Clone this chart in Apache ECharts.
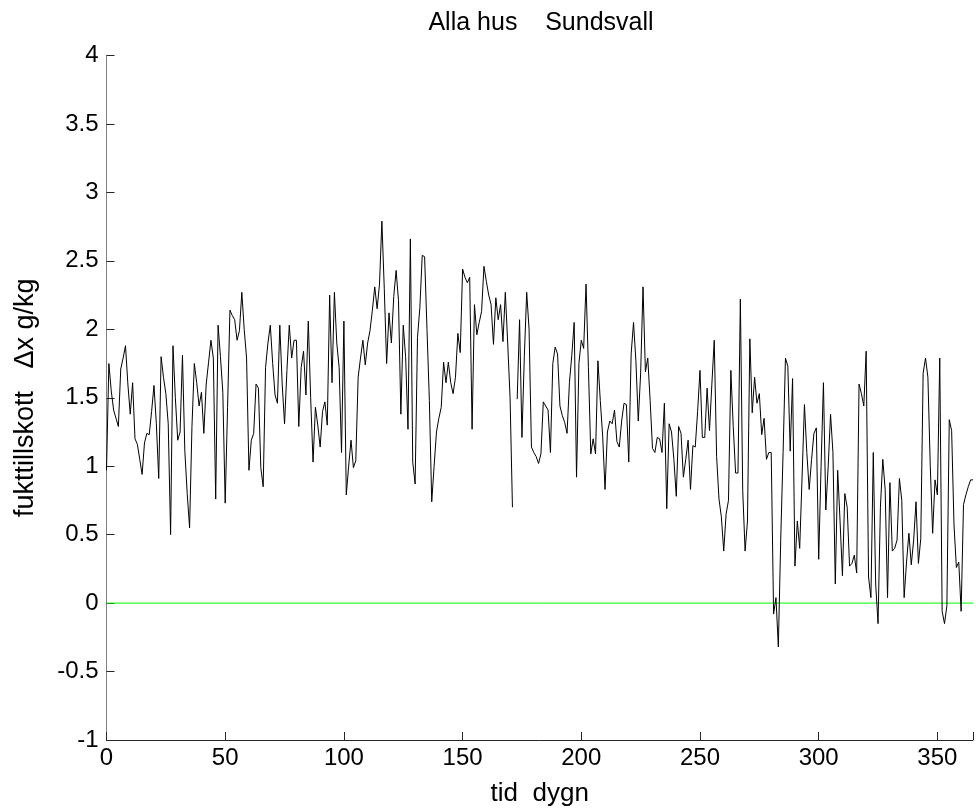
<!DOCTYPE html>
<html><head><meta charset="utf-8">
<script src="https://cdn.jsdelivr.net/npm/echarts@6/dist/echarts.min.js"></script>
<style>html,body{margin:0;padding:0;background:#fff}#c{width:976px;height:812px}</style>
</head><body><div id="c"></div>
<script>
const titleText = 'Alla hus    Sundsvall';
const xName = 'tid  dygn';
const yName = 'fukttillskott   \u0394x g/kg';
const xTicks = [0, 50, 100, 150, 200, 250, 300, 350];
const xRange = [0, 365];
const yTicks = [-1, -0.5, 0, 0.5, 1, 1.5, 2, 2.5, 3, 3.5, 4];
const zeroLevel = 0;
// daily values, day 0 .. 365 (null = missing day)
const values = [
0.97,1.75,1.55,1.41,1.35,1.29,1.71,1.79,1.88,1.60,
1.38,1.61,1.20,1.16,1.05,0.94,1.17,1.24,1.23,1.40,
1.59,1.31,0.91,1.80,1.65,1.53,1.31,0.50,1.88,1.50,
1.19,1.25,1.81,1.11,0.80,0.55,1.29,1.75,1.61,1.44,
1.54,1.24,1.60,1.76,1.92,1.79,0.76,2.03,1.80,1.54,
0.73,1.43,2.14,2.10,2.07,1.92,1.99,2.27,2.00,1.79,
0.97,1.19,1.24,1.60,1.57,0.99,0.85,1.72,1.90,2.03,
1.75,1.52,1.46,2.03,1.60,1.31,1.70,2.03,1.79,1.92,
1.92,1.29,1.72,1.84,1.52,2.06,1.50,1.03,1.43,1.30,
1.14,1.40,1.47,1.30,2.25,1.61,2.27,1.90,1.72,1.10,
2.06,0.79,1.00,1.19,0.99,1.04,1.65,1.79,1.92,1.74,
1.90,1.99,2.14,2.31,2.15,2.33,2.79,2.30,1.75,2.12,
1.90,2.24,2.43,2.21,1.38,2.03,1.80,1.27,2.66,1.03,
0.87,1.94,2.16,2.54,2.53,2.00,1.48,0.74,1.00,1.25,
1.35,1.43,1.76,1.61,1.76,1.61,1.53,1.65,1.97,1.83,
2.44,2.38,2.34,2.38,1.27,2.18,1.96,2.05,2.13,2.46,
2.35,2.25,2.18,1.89,2.23,2.07,2.18,1.91,2.27,1.90,
1.50,0.70,null,1.49,2.07,1.21,1.80,2.27,2.00,1.14,
1.10,1.07,1.02,1.09,1.47,1.44,1.41,1.10,1.75,1.87,
1.82,1.44,1.37,1.32,1.24,1.61,1.81,2.05,0.92,1.75,
1.92,1.86,2.33,1.72,1.09,1.20,1.09,1.77,1.48,1.22,
0.83,1.25,1.33,1.31,1.41,1.18,1.14,1.33,1.46,1.45,
1.03,1.82,2.05,1.77,1.33,1.68,2.31,1.69,1.79,1.48,
1.13,1.10,1.21,1.20,1.10,1.46,0.69,1.31,1.25,1.05,
0.78,1.29,1.24,0.92,1.05,1.19,0.83,1.15,1.14,1.40,
1.70,1.21,1.21,1.57,1.26,1.60,1.92,1.07,0.76,0.63,
0.38,0.65,0.75,1.70,1.29,0.95,0.95,2.22,0.82,0.38,
0.60,1.93,1.39,1.65,1.46,1.53,1.23,1.35,1.05,1.10,
1.10,-0.08,0.04,-0.32,0.46,1.10,1.79,1.73,1.11,1.64,
0.27,0.60,0.40,0.92,1.45,1.10,0.83,1.05,1.24,1.28,
0.32,1.00,1.61,0.68,1.00,1.38,1.10,0.14,0.97,0.60,
0.20,0.80,0.70,0.27,0.29,0.35,0.22,1.60,1.53,1.44,
1.84,0.19,0.04,1.10,0.14,-0.15,0.70,1.05,0.83,0.04,
0.88,0.38,0.40,0.46,0.91,0.75,0.04,0.30,0.51,0.28,
0.46,0.74,0.29,0.47,1.68,1.79,1.65,1.00,0.51,0.90,
0.79,1.79,-0.06,-0.15,-0.02,1.34,1.26,0.57,0.26,0.30,
-0.06,0.72,0.79,0.85,0.90,0.90
];

const FONT = 'Liberation Sans, Arial, sans-serif';
const chart = echarts.init(document.getElementById('c'), null, {renderer: 'canvas'});
chart.setOption({
  animation: false,
  backgroundColor: '#ffffff',
  title: {
    text: titleText, left: 536, top: 6, textAlign: 'center',
    textStyle: {fontFamily: FONT, fontSize: 25, fontWeight: 'normal', color: '#000'}
  },
  grid: {left: 106.5, right: -6.5, top: 55.5, bottom: 71.5, containLabel: false},
  xAxis: {
    type: 'value', min: xRange[0], max: xRange[1], interval: 50,
    name: xName, nameLocation: 'middle', nameGap: 41,
    nameTextStyle: {fontFamily: FONT, fontSize: 26, color: '#000'},
    axisLine: {show: true, onZero: false, lineStyle: {color: '#262626', width: 1}},
    axisTick: {show: true, inside: true, length: 8, lineStyle: {color: '#262626'}},
    axisLabel: {show: true, margin: 6, fontFamily: FONT, fontSize: 24, color: '#000',
      formatter: v => xTicks.includes(v) ? String(v) : ''},
    splitLine: {show: false}
  },
  yAxis: {
    type: 'value', min: yTicks[0], max: yTicks[yTicks.length-1], interval: 0.5,
    name: yName, nameLocation: 'middle', nameGap: 67, nameRotate: 90,
    nameTextStyle: {fontFamily: FONT, fontSize: 27, color: '#000'},
    axisLine: {show: true, onZero: false, lineStyle: {color: '#808080', width: 1}},
    axisTick: {show: true, inside: true, length: 8, lineStyle: {color: '#262626'}},
    axisLabel: {show: true, margin: 8, fontFamily: FONT, fontSize: 24, color: '#000'},
    splitLine: {show: false}
  },
  series: [{
    name: 'zero', type: 'line',
    data: xRange.map(x => [x, zeroLevel]),
    showSymbol: false, symbol: 'none', silent: true,
    lineStyle: {color: '#00ff00', width: 1},
    z: 2
  }, {
    name: 'values', type: 'line',
    data: values.map((v, i) => [i, v]),
    showSymbol: false, symbol: 'none',
    connectNulls: false,
    lineStyle: {color: '#000', width: 1},
    silent: true,
    z: 3
  }]
});
</script></body></html>
